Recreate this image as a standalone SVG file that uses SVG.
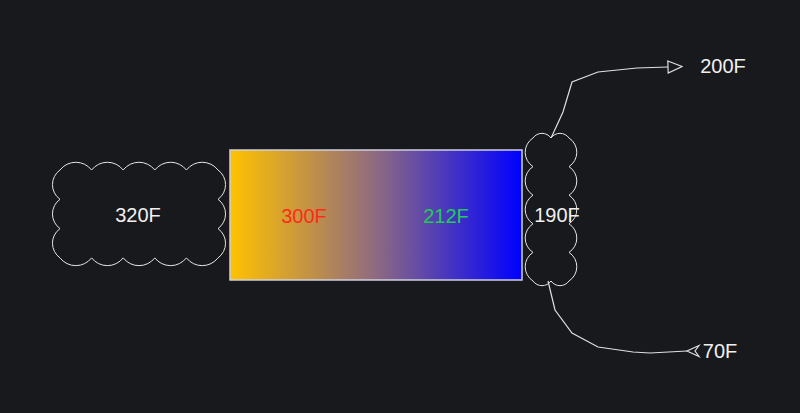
<svg xmlns="http://www.w3.org/2000/svg" width="800" height="413" viewBox="0 0 800 413">
<defs>
<linearGradient id="heat" x1="0" y1="0" x2="1" y2="0">
<stop offset="0" stop-color="#FFC200"/>
<stop offset="0.5" stop-color="#8E6A80"/>
<stop offset="1" stop-color="#0000FF"/>
</linearGradient>
<marker id="openTri" viewBox="0 0 16 14" refX="1" refY="7" markerWidth="16" markerHeight="14" markerUnits="userSpaceOnUse" orient="auto">
<path d="M1,1 L15,7 L1,13 Z" fill="none" stroke="#dddddd" stroke-width="1.2"/>
</marker>
</defs>
<style>
.cloud{fill:none;stroke:#e6e6e6;stroke-width:1}
.conn{fill:none;stroke:#e0e0e0;stroke-width:1.2}
.lbl{font-family:"Liberation Sans",Arial,sans-serif;font-size:20px;text-anchor:middle;fill:#f0f0f0}
</style>
<rect width="800" height="413" fill="#18191d"/>
<g id="cloud-320">
<path class="cloud" d="M60,170 a20,20 0 0 1 31.6,0 a20,20 0 0 1 31.6,0 a20,20 0 0 1 31.6,0 a20,20 0 0 1 31.6,0 a20,20 0 0 1 31.6,0 a18,18 0 0 1 0,29.3 a18,18 0 0 1 0,29.3 a18,18 0 0 1 0,29.3 a20,20 0 0 1 -31.6,0 a20,20 0 0 1 -31.6,0 a20,20 0 0 1 -31.6,0 a20,20 0 0 1 -31.6,0 a20,20 0 0 1 -31.6,0 a18,18 0 0 1 0,-29.3 a18,18 0 0 1 0,-29.3 a18,18 0 0 1 0,-29.3 Z"/>
<text class="lbl" x="138" y="222">320F</text>
</g>
<g id="exchanger">
<rect x="230" y="150" width="292" height="130" fill="url(#heat)" stroke="#d0d0e0" stroke-width="1.5"/>
<text class="lbl" x="304" y="223" style="fill:#ff2a1a">300F</text>
<text class="lbl" x="446" y="223" style="fill:#22cc55">212F</text>
</g>
<g id="cloud-190">
<path class="cloud" d="M533,138 a11,11 0 0 1 18,0 a11,11 0 0 1 18,0 a17,17 0 0 1 0,28.6 a17,17 0 0 1 0,28.6 a17,17 0 0 1 0,28.6 a17,17 0 0 1 0,28.6 a17,17 0 0 1 0,28.6 a11,11 0 0 1 -18,0 a11,11 0 0 1 -18,0 a17,17 0 0 1 0,-28.6 a17,17 0 0 1 0,-28.6 a17,17 0 0 1 0,-28.6 a17,17 0 0 1 0,-28.6 a17,17 0 0 1 0,-28.6 Z"/>
<text class="lbl" x="557" y="222">190F</text>
</g>
<g id="connectors">
<path class="conn" d="M551.5,137 L563,112 L572,82 L598,72 L637,68 L668,67" marker-end="url(#openTri)"/>
<path class="conn" d="M548,281 L555,310 L572,333 L598,347 L633,352 L650,353 L687,351"/>
<path d="M699,345.5 L687,351 L699,356.5 L695,351 Z" fill="none" stroke="#dddddd" stroke-width="1.2"/>
</g>
<g id="label-200">
<text class="lbl" x="723" y="73">200F</text>
</g>
<g id="label-70">
<text class="lbl" x="720" y="358">70F</text>
</g>
</svg>
